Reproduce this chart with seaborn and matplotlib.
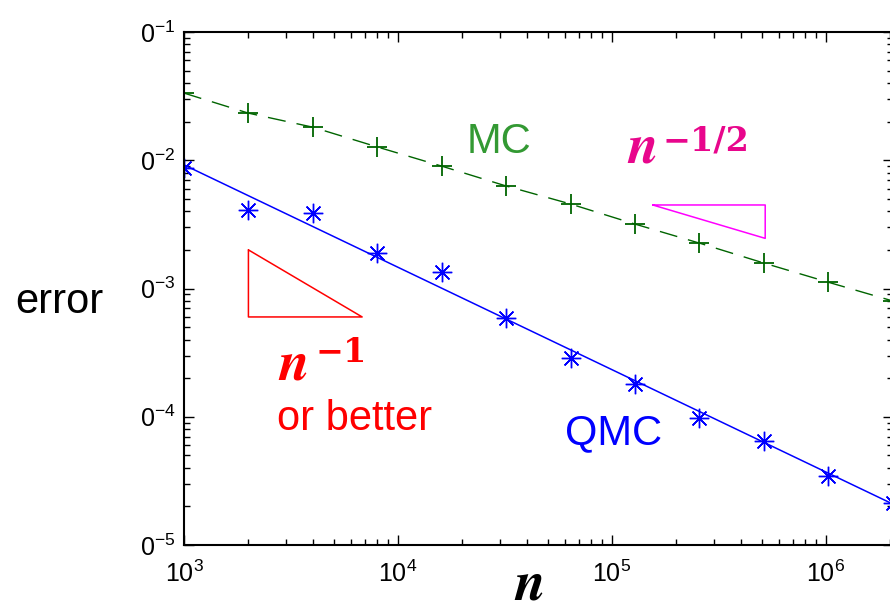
import numpy as np
import seaborn as sns
import matplotlib.pyplot as plt
from matplotlib.ticker import FuncFormatter, LogLocator, NullFormatter

# sample sizes (1000 * 2^k)
n = [1000, 2000, 4000, 8000, 16000, 32000, 64000, 128000,
     256000, 512000, 1024000, 2048000]

# errors
mc_err = [3.34e-2, 2.33e-2, 1.81e-2, 1.27e-2, 9.0e-3, 6.3e-3,
          4.56e-3, 3.18e-3, 2.26e-3, 1.58e-3, 1.12e-3, 8.0e-4]
qmc_err = [8.7e-3, 4.1e-3, 3.9e-3, 1.89e-3, 1.35e-3, 5.9e-4,
           2.87e-4, 1.8e-4, 9.8e-5, 6.5e-5, 3.45e-5, 2.12e-5]

# fitted QMC line (end points)
qmc_fit_n = [1000, 2048000]
qmc_fit_err = [9.2e-3, 2.09e-5]

# slope triangles
tri1_n = [2000, 2000, 6800, 2000]
tri1_err = [2.0e-3, 6.0e-4, 6.0e-4, 2.0e-3]
tri2_n = [1.55e5, 5.2e5, 5.2e5, 1.55e5]
tri2_err = [4.48e-3, 4.48e-3, 2.46e-3, 4.48e-3]

sns.set_theme(style="ticks")
plt.rcParams['font.family'] = ['Liberation Sans', 'DejaVu Sans']
plt.rcParams['text.color'] = 'black'
plt.rcParams['axes.labelcolor'] = 'black'

fig = plt.figure(figsize=(8.9, 6.12), dpi=100)
ax = fig.add_axes([184 / 890, 1 - 545 / 612, 708.6 / 890, 513 / 612])

# MC: dashed line with + markers
sns.lineplot(x=n, y=mc_err, ax=ax, color='#006400', lw=1.0,
             linestyle=(0, (13, 8)), estimator=None, sort=False)
sns.lineplot(x=n, y=mc_err, ax=ax, color='#006400', linestyle='none',
             marker='+', markersize=14, markeredgewidth=1.3,
             markeredgecolor='#006400', estimator=None, sort=False)

# QMC: fitted line + asterisk markers
sns.lineplot(x=qmc_fit_n, y=qmc_fit_err, ax=ax, color='#0000ff', lw=1.1,
             estimator=None, sort=False)
sns.lineplot(x=n, y=qmc_err, ax=ax, color='#0000ff', linestyle='none',
             marker=(8, 2, 0), markersize=14, markeredgewidth=1.0,
             markeredgecolor='#0000ff', estimator=None, sort=False)

# slope triangles
sns.lineplot(x=tri1_n, y=tri1_err, ax=ax, color='#ff0000', lw=1.1,
             estimator=None, sort=False)
sns.lineplot(x=tri2_n, y=tri2_err, ax=ax, color='#ff00ff', lw=1.1,
             estimator=None, sort=False)

ax.set(xscale='log', yscale='log')
ax.set_xlim(1e3, 2.048e6)
ax.set_ylim(1e-5, 1e-1)

ax.xaxis.set_major_locator(LogLocator(base=10))
ax.yaxis.set_major_locator(LogLocator(base=10))
ax.xaxis.set_minor_locator(LogLocator(base=10, subs=np.arange(2, 10)))
ax.yaxis.set_minor_locator(LogLocator(base=10, subs=np.arange(2, 10)))
ax.xaxis.set_minor_formatter(NullFormatter())
ax.yaxis.set_minor_formatter(NullFormatter())
ax.xaxis.set_major_formatter(FuncFormatter(
    lambda v, p: r'$\mathregular{10^{%d}}$' % round(np.log10(v))))
ax.yaxis.set_major_formatter(FuncFormatter(
    lambda v, p: r'$\mathregular{0^{%d}}$' % round(np.log10(v))))

ax.tick_params(which='both', direction='in', top=True, right=True,
               labelsize=18, width=1.0, colors='black')
ax.tick_params(which='major', length=7)
ax.tick_params(which='minor', length=4)
ax.tick_params(axis='x', pad=11)
ax.tick_params(axis='y', pad=6)
for s in ax.spines.values():
    s.set_linewidth(1.5)
    s.set_color('black')

# labels
ax.set_xlabel(r'$\mathbfit{n}$', fontsize=40, math_fontfamily='stix',
              va='baseline')
ax.xaxis.set_label_coords(0.487, -0.107)
fig.text(15 / 890, 1 - 313 / 612, 'error', fontsize=30, va='baseline')

ax.text(0.399, 0.764, 'MC', color='#339933', fontsize=30,
        transform=ax.transAxes, va='baseline')
ax.text(0.538, 0.197, 'QMC', color='#0000ff', fontsize=30,
        transform=ax.transAxes, va='baseline')

# rate labels: bold italic n with a bold superscript
pink = '#e8068c'
ax.text(0.625, 0.745, r'$\mathbfit{n}$', color=pink, fontsize=40,
        math_fontfamily='stix', transform=ax.transAxes, va='baseline')
ax.annotate('\u22121/2', xy=(0.625, 0.745), xycoords='axes fraction',
            xytext=(36, 12), textcoords='offset pixels', color=pink,
            fontsize=24, family='DejaVu Serif', weight='bold',
            va='baseline')
ax.text(0.133, 0.322, r'$\mathbfit{n}$', color='#ff0000', fontsize=40,
        math_fontfamily='stix', transform=ax.transAxes, va='baseline')
ax.annotate('\u22121', xy=(0.133, 0.322), xycoords='axes fraction',
            xytext=(37, 18), textcoords='offset pixels', color='#ff0000',
            fontsize=24, family='DejaVu Serif', weight='bold',
            va='baseline')
ax.text(0.131, 0.224, 'or better', color='#ff0000', fontsize=30,
        transform=ax.transAxes, va='baseline')

fig.savefig('out.png', dpi=100)
